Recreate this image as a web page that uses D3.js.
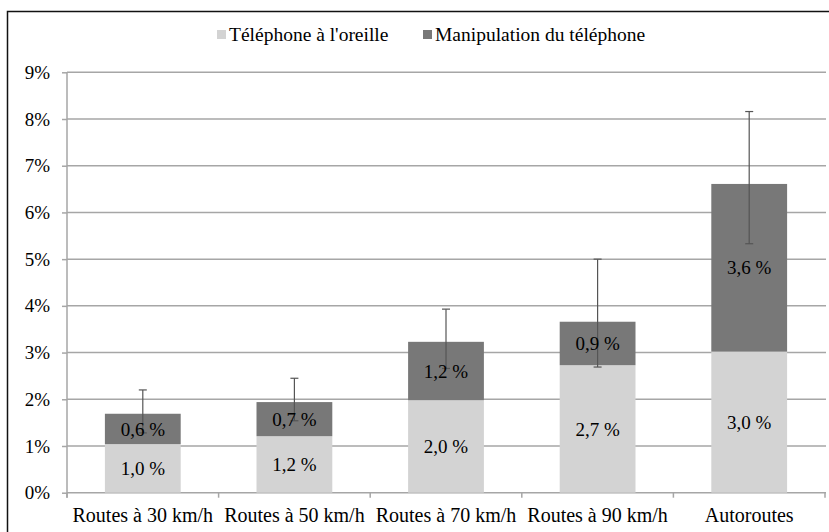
<!DOCTYPE html>
<html>
<head>
<meta charset="utf-8">
<script src="https://cdn.jsdelivr.net/npm/d3@7"></script>
<style>
  body { margin: 0; background: #fff; }
</style>
</head>
<body>
<script>
let width = 829;
let height = 532;

// data
let categories = ["Routes à 30 km/h", "Routes à 50 km/h", "Routes à 70 km/h", "Routes à 90 km/h", "Autoroutes"];
let seriesNames = ["Téléphone à l'oreille", "Manipulation du téléphone"];
let oreille = [1.04, 1.21, 1.98, 2.73, 3.02];
let manipulation = [0.65, 0.73, 1.25, 0.93, 3.59];
let oreilleLabels = ["1,0 %", "1,2 %", "2,0 %", "2,7 %", "3,0 %"];
let manipulationLabels = ["0,6 %", "0,7 %", "1,2 %", "0,9 %", "3,6 %"];
let errLow = [1.28, 1.54, 2.66, 2.69, 5.33];
let errHigh = [2.20, 2.45, 3.93, 5.00, 8.16];
let yTicks = [0, 1, 2, 3, 4, 5, 6, 7, 8, 9];

let colors = ["#d3d3d3", "#787878"];
let font = "'Liberation Serif', serif";

let svg = d3.select("body")
            .append("svg")
            .attr("width", width)
            .attr("height", height);

// outer frame (cut off on the right and bottom in the original)
svg.append("rect")
   .attr("x", 7.5).attr("y", 11.5)
   .attr("width", 900).attr("height", 600)
   .attr("fill", "none")
   .attr("stroke", "#111")
   .attr("stroke-width", 1.5);

let plotLeft = 67, plotRight = 825, plotTop = 72.3, plotBottom = 492.7;

let x = d3.scaleBand()
          .domain(categories)
          .range([plotLeft, plotRight])
          .paddingInner(0.5)
          .paddingOuter(0.25);

let y = d3.scaleLinear()
          .domain([0, 9])
          .range([plotBottom, plotTop]);

// gridlines
svg.append("g")
   .selectAll("line")
   .data(yTicks.filter(d => d > 0))
   .enter()
   .append("line")
   .attr("x1", plotLeft).attr("x2", plotRight + 1)
   .attr("y1", d => y(d)).attr("y2", d => y(d))
   .attr("stroke", "#a6a6a6")
   .attr("stroke-width", 1.5);

// y axis
let yAxis = svg.append("g")
   .attr("transform", "translate(" + plotLeft + ",0)")
   .call(d3.axisLeft(y).tickValues(yTicks).tickFormat(d => d + "%").tickSize(5).tickPadding(12));
yAxis.select(".domain").attr("stroke", "#a6a6a6").attr("stroke-width", 1.5)
     .attr("d", "M0," + plotTop + "V" + (plotBottom + 5));
yAxis.selectAll(".tick line").attr("stroke", "#a6a6a6").attr("stroke-width", 1.5);
yAxis.selectAll(".tick text")
     .style("font-family", font)
     .style("font-size", "19px")
     .attr("fill", "#000");

// x axis line and category ticks
svg.append("line")
   .attr("x1", plotLeft).attr("x2", plotRight + 1)
   .attr("y1", plotBottom).attr("y2", plotBottom)
   .attr("stroke", "#a6a6a6")
   .attr("stroke-width", 1.5);

svg.append("g")
   .selectAll("line")
   .data(d3.range(categories.length + 1))
   .enter()
   .append("line")
   .attr("x1", i => plotLeft + i * x.step())
   .attr("x2", i => plotLeft + i * x.step())
   .attr("y1", plotBottom).attr("y2", plotBottom + 5)
   .attr("stroke", "#a6a6a6")
   .attr("stroke-width", 1.5);

// stacked bars
let rows = categories.map((c, i) => ({ cat: c, oreille: oreille[i], manipulation: manipulation[i], i: i }));
let stacked = d3.stack().keys(["oreille", "manipulation"])(rows);
let labels = [oreilleLabels, manipulationLabels];

stacked.forEach((layer, k) => {
  svg.append("g")
     .selectAll("rect")
     .data(layer)
     .enter()
     .append("rect")
     .attr("x", d => x(d.data.cat))
     .attr("width", x.bandwidth())
     .attr("y", d => y(d[1]))
     .attr("height", d => y(d[0]) - y(d[1]))
     .attr("fill", colors[k]);
});

// error bars
let err = svg.append("g")
   .selectAll("g")
   .data(categories)
   .enter()
   .append("g")
   .attr("stroke", "#555")
   .attr("stroke-width", 1.2);

err.append("line")
   .attr("x1", d => x(d) + x.bandwidth() / 2)
   .attr("x2", d => x(d) + x.bandwidth() / 2)
   .attr("y1", (d, i) => y(errLow[i]))
   .attr("y2", (d, i) => y(errHigh[i]));
err.append("line")
   .attr("x1", d => x(d) + x.bandwidth() / 2 - 4)
   .attr("x2", d => x(d) + x.bandwidth() / 2 + 4)
   .attr("y1", (d, i) => y(errLow[i]))
   .attr("y2", (d, i) => y(errLow[i]));
err.append("line")
   .attr("x1", d => x(d) + x.bandwidth() / 2 - 4)
   .attr("x2", d => x(d) + x.bandwidth() / 2 + 4)
   .attr("y1", (d, i) => y(errHigh[i]))
   .attr("y2", (d, i) => y(errHigh[i]));

// value labels inside segments
stacked.forEach((layer, k) => {
  svg.append("g")
     .selectAll("text")
     .data(layer)
     .enter()
     .append("text")
     .attr("x", d => x(d.data.cat) + x.bandwidth() / 2)
     .attr("y", d => (y(d[0]) + y(d[1])) / 2)
     .attr("dy", "0.35em")
     .attr("text-anchor", "middle")
     .style("font-family", font)
     .style("font-size", "19px")
     .attr("fill", "#000")
     .text(d => labels[k][d.data.i]);
});

// category labels
svg.append("g")
   .selectAll("text")
   .data(categories)
   .enter()
   .append("text")
   .attr("x", d => x(d) + x.bandwidth() / 2)
   .attr("y", 521.5)
   .attr("text-anchor", "middle")
   .style("font-family", font)
   .style("font-size", "20px")
   .attr("fill", "#000")
   .text(d => d);

// legend
let legendX = [217, 423];
let legend = svg.append("g")
   .selectAll("g")
   .data(seriesNames)
   .enter()
   .append("g")
   .attr("transform", (d, i) => "translate(" + legendX[i] + ", 30)");

legend.append("rect")
   .attr("width", 9).attr("height", 9)
   .attr("fill", (d, i) => colors[i]);

legend.append("text")
   .attr("x", 12)
   .attr("y", 11)
   .style("font-family", font)
   .style("font-size", "19.5px")
   .attr("fill", "#000")
   .text(d => d);
</script>
</body>
</html>
